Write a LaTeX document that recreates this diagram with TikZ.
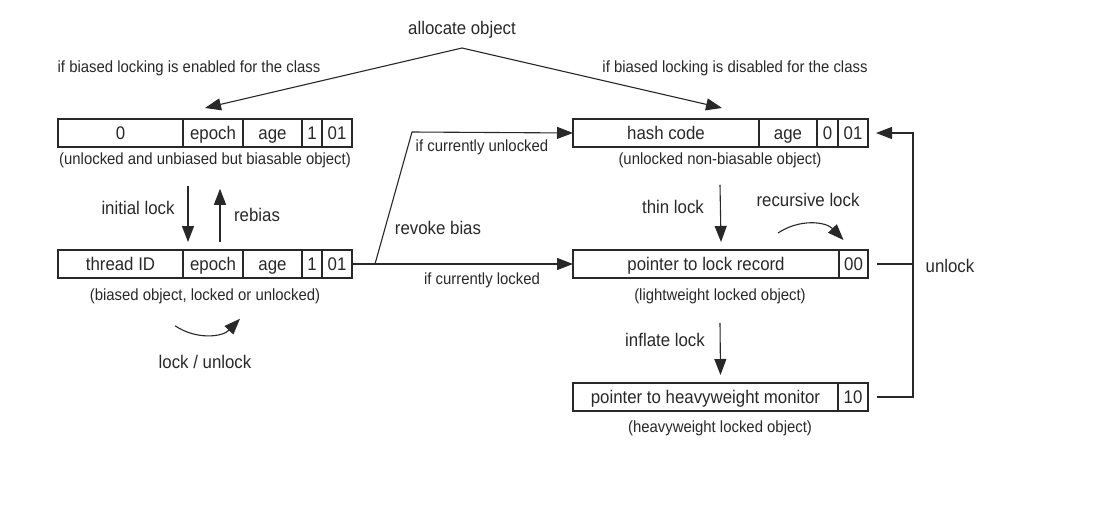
\documentclass[tikz,border=0pt]{standalone}
\usepackage{fontspec}
\setmainfont{Liberation Sans}[FakeStretch=0.92]
\usetikzlibrary{arrows.meta, positioning}
\definecolor{inkgray}{RGB}{40,40,40}
\newcommand{\bigtxt}{\fontsize{18.3}{20}\selectfont}
\newcommand{\smalltxt}{\fontsize{16.2}{18}\selectfont}

\begin{document}
\begin{tikzpicture}[
    x=1pt, y=-1pt,
    cell/.style={rectangle, draw=inkgray, line width=1.2pt, minimum height=28pt,
                 text height=12.5pt, text depth=0pt,
                 inner sep=1pt, outer sep=0pt, font=\bigtxt, text=inkgray},
    note/.style={font=\smalltxt, text=inkgray, inner sep=1pt},
    lbl/.style={font=\bigtxt, text=inkgray, inner sep=1pt},
    cond/.style={font=\smalltxt, text=inkgray, inner sep=1pt},
    arrow/.style={-{Triangle[length=16pt,width=12pt]}, line width=1.1pt, inkgray},
    wire/.style={line width=1.1pt, inkgray}
]
\useasboundingbox (0,0) rectangle (1116,509);

% allocation
\node[lbl] (alloc) at (462,30) {allocate object};
\coordinate (fork) at (462,48);
\node[cond] (enabled) at (189,68) {if biased locking is enabled for the class};
\node[cond] (disabled) at (735,68) {if biased locking is disabled for the class};

% unbiased but biasable header
\node[cell, minimum width=125, anchor=west] (ub0) at (58,133) {0};
\node[cell, minimum width=60, right=0pt of ub0] (ubep) {epoch};
\node[cell, minimum width=59, right=0pt of ubep] (ubage) {age};
\node[cell, minimum width=20, right=0pt of ubage] (ubbit) {1};
\node[cell, minimum width=30, right=0pt of ubbit] (ubtag) {01};
\node[note] (ubcap) at (205,160) {(unlocked and unbiased but biasable object)};

% biased header
\node[cell, minimum width=125, anchor=west] (tid) at (58,264) {thread ID};
\node[cell, minimum width=60, right=0pt of tid] (bep) {epoch};
\node[cell, minimum width=59, right=0pt of bep] (bage) {age};
\node[cell, minimum width=20, right=0pt of bage] (bbit) {1};
\node[cell, minimum width=30, right=0pt of bbit] (btag) {01};
\node[note] (bcap) at (205,296) {(biased object, locked or unlocked)};

% non-biasable header
\node[cell, minimum width=186, anchor=west] (hash) at (573,133) {hash code};
\node[cell, minimum width=58, right=0pt of hash] (hage) {age};
\node[cell, minimum width=21, right=0pt of hage] (hbit) {0};
\node[cell, minimum width=30, right=0pt of hbit] (htag) {01};
\node[note] (hcap) at (720,160) {(unlocked non-biasable object)};

% lightweight
\node[cell, minimum width=266, anchor=west] (lrec) at (573,264) {pointer to lock record};
\node[cell, minimum width=29, right=0pt of lrec] (ltag) {00};
\node[note] (lcap) at (720,296) {(lightweight locked object)};

% heavyweight
\node[cell, minimum width=265, anchor=west] (mon) at (573,397) {pointer to heavyweight monitor};
\node[cell, minimum width=30, right=0pt of mon] (mtag) {10};
\node[note] (mcap) at (720,428) {(heavyweight locked object)};

\draw[arrow] (fork) -- ([xshift=-8pt,yshift=11pt]ubep.north);
\draw[arrow] (fork) -- ([xshift=56pt,yshift=11pt]hash.north);

% bias / rebias
\draw[arrow] ([xshift=-17pt,yshift=-17pt]ubcap.south) -- ([xshift=-25pt,yshift=8pt]bep.north);
\draw[arrow] ([xshift=7pt,yshift=8pt]bep.north) -- ([xshift=15pt,yshift=-20pt]ubcap.south);
\node[lbl] (initl) at (138,208) {initial lock};
\node[lbl] (rebias) at (257,215) {rebias};
\draw[arrow] ([xshift=-30pt,yshift=-21pt]bcap.south) to[bend right=40] ([xshift=35pt,yshift=-14pt]bcap.south);
\node[lbl] (lockun) at (205,362) {lock / unlock};

% revoke bias
\coordinate (rv) at ([xshift=23pt]btag.east);
\draw[wire] (btag.east) -- (rv);
\draw[arrow] (rv) -- (lrec.west);
\draw[arrow] (rv) -- ++(37,-132) -- (hash.west);
\node[cond] (unl) at (482,147) {if currently unlocked};
\node[lbl] (revoke) at (438,228) {revoke bias};
\node[cond] (lck) at (482,280) {if currently locked};

% thin / recursive / inflate
\draw[arrow] ([yshift=-16pt]hcap.south) -- ([xshift=15pt,yshift=8pt]lrec.north);
\node[lbl] (thin) at (673,207) {thin lock};
\draw[arrow] ([xshift=-61pt,yshift=17pt]lrec.north east) to[bend left=40] ([xshift=-10pt,yshift=10pt]ltag.north);
\node[lbl] (recur) at (808,200) {recursive lock};
\draw[arrow] ([yshift=-18pt]lcap.south) -- ([xshift=15pt,yshift=8pt]mon.north);
\node[lbl] (inflate) at (665,340) {inflate lock};

% unlock
\draw[wire] ([xshift=9pt]ltag.east) -- ++(36,0);
\draw[arrow] ([xshift=9pt]mtag.east) -- ++(36,0) |- ([xshift=8pt]htag.east);
\node[lbl] (unlock) at (950,266) {unlock};

\end{tikzpicture}
\end{document}
